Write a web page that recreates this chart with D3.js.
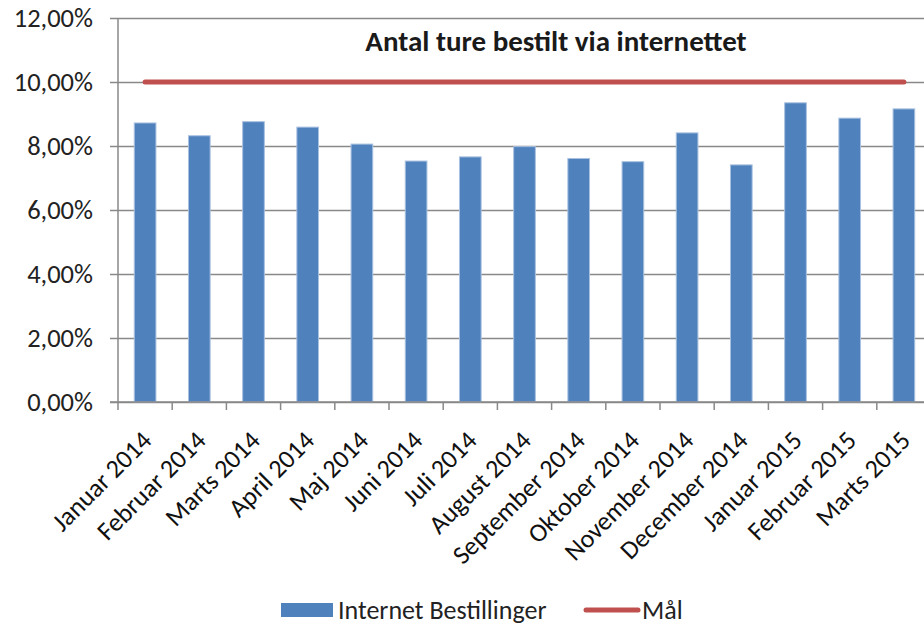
<!DOCTYPE html>
<html>
<head>
<meta charset="utf-8">
<script src="https://cdn.jsdelivr.net/npm/d3@7"></script>
<style>
  body { margin: 0; background: #fff; }
  svg { display: block; font-family: Carlito, Calibri, Lato, sans-serif; }
</style>
</head>
<body>
<svg id="chart" width="924" height="627"></svg>
<script>
// data
var months = ["Januar 2014", "Februar 2014", "Marts 2014", "April 2014", "Maj 2014", "Juni 2014",
  "Juli 2014", "August 2014", "September 2014", "Oktober 2014", "November 2014", "December 2014",
  "Januar 2015", "Februar 2015", "Marts 2015"];
var internetShare = [0.0872, 0.0832, 0.0876, 0.0859, 0.0806, 0.0753, 0.0766, 0.0798,
  0.0761, 0.0751, 0.0841, 0.0741, 0.0935, 0.0887, 0.0916];
var goal = [0.10, 0.10, 0.10, 0.10, 0.10, 0.10, 0.10, 0.10, 0.10, 0.10, 0.10, 0.10, 0.10, 0.10, 0.10];
var yTicks = [0, 0.02, 0.04, 0.06, 0.08, 0.10, 0.12];
var chartTitle = "Antal ture bestilt via internettet";
var seriesNames = ["Internet Bestillinger", "Mål"];

const barColor = "#4f81bd",
    goalColor = "#c0504d",
    axisColor = "#898989",
    fontStack = "Carlito, Calibri, Lato, sans-serif";

// plot box (the right edge runs off the picture, like in the original)
var plot = { left: 118, right: 931, top: 18, bottom: 402 };

var svg = d3.select("#chart");

var x = d3.scaleBand()
    .domain(months)
    .range([plot.left, plot.right]);

var y = d3.scaleLinear()
    .domain([0, 0.12])
    .range([plot.bottom, plot.top]);

var pct = v => d3.format(".2f")(v * 100).replace(".", ",") + "%";

// GRID + Y AXIS
var yAxis = d3.axisLeft(y)
    .tickValues(yTicks)
    .tickSize(-(plot.right - plot.left))
    .tickSizeOuter(0)
    .tickPadding(25)
    .tickFormat(pct);

var yg = svg.append("g")
    .attr("transform", "translate(" + plot.left + ",0)")
    .call(yAxis)
    .attr("font-family", fontStack);
yg.select(".domain").remove();
yg.selectAll(".tick line")
    .attr("x1", -8)
    .attr("stroke", axisColor)
    .attr("stroke-width", 1.5);
yg.selectAll(".tick text")
    .attr("fill", "#222")
    .style("font-size", "26.5px");

// vertical axis line
svg.append("line")
    .attr("x1", plot.left).attr("x2", plot.left)
    .attr("y1", y(0.12)).attr("y2", y(0))
    .attr("stroke", axisColor)
    .attr("stroke-width", 1.5);

// BARS
var barW = x.bandwidth() / 2.5;
svg.append("g")
    .selectAll("rect")
    .data(internetShare)
    .enter().append("rect")
    .attr("x", (d, i) => x(months[i]) + (x.bandwidth() - barW) / 2)
    .attr("y", d => y(d))
    .attr("width", barW)
    .attr("height", d => y(0) - y(d))
    .attr("fill", barColor)
    .attr("stroke", "#a9c1e0")
    .attr("stroke-width", 1);

// X AXIS (ticks between categories)
var xg = svg.append("g")
    .attr("transform", "translate(0," + plot.bottom + ")");
xg.append("line")
    .attr("x1", plot.left - 8).attr("x2", plot.right)
    .attr("stroke", axisColor)
    .attr("stroke-width", 1.5);
xg.selectAll("line.tk")
    .data(months)
    .enter().append("line")
    .attr("class", "tk")
    .attr("x1", d => x(d)).attr("x2", d => x(d))
    .attr("y1", 0).attr("y2", 8)
    .attr("stroke", axisColor)
    .attr("stroke-width", 1.5);
xg.selectAll("text")
    .data(months)
    .enter().append("text")
    .attr("transform", d => "translate(" + (x(d) + x.bandwidth() / 2 + 8) + ",40) rotate(-45)")
    .attr("text-anchor", "end")
    .attr("fill", "#111")
    .style("font-size", "26px")
    .text(d => d);

// GOAL LINE
var line = d3.line()
    .x((d, i) => x(months[i]) + x.bandwidth() / 2)
    .y(d => y(d));
svg.append("path")
    .datum(goal)
    .attr("d", line)
    .attr("fill", "none")
    .attr("stroke", goalColor)
    .attr("stroke-width", 5)
    .attr("stroke-linecap", "round");

// TITLE
svg.append("text")
    .attr("x", 556)
    .attr("y", 51)
    .attr("text-anchor", "middle")
    .attr("fill", "#1a1a1a")
    .style("font-size", "29px")
    .style("font-weight", "bold")
    .text(chartTitle);

// LEGEND
var legend = svg.append("g").attr("transform", "translate(0,610)");
legend.append("rect")
    .attr("x", 281).attr("y", -7)
    .attr("width", 52).attr("height", 14)
    .attr("fill", barColor);
legend.append("text")
    .attr("x", 338).attr("y", 0)
    .attr("dy", "0.35em")
    .attr("fill", "#222")
    .style("font-size", "26px")
    .text(seriesNames[0]);
legend.append("line")
    .attr("x1", 586).attr("x2", 638)
    .attr("stroke", goalColor)
    .attr("stroke-width", 5)
    .attr("stroke-linecap", "round");
legend.append("text")
    .attr("x", 642).attr("y", 0)
    .attr("dy", "0.35em")
    .attr("fill", "#222")
    .style("font-size", "26px")
    .text(seriesNames[1]);
</script>
</body>
</html>
